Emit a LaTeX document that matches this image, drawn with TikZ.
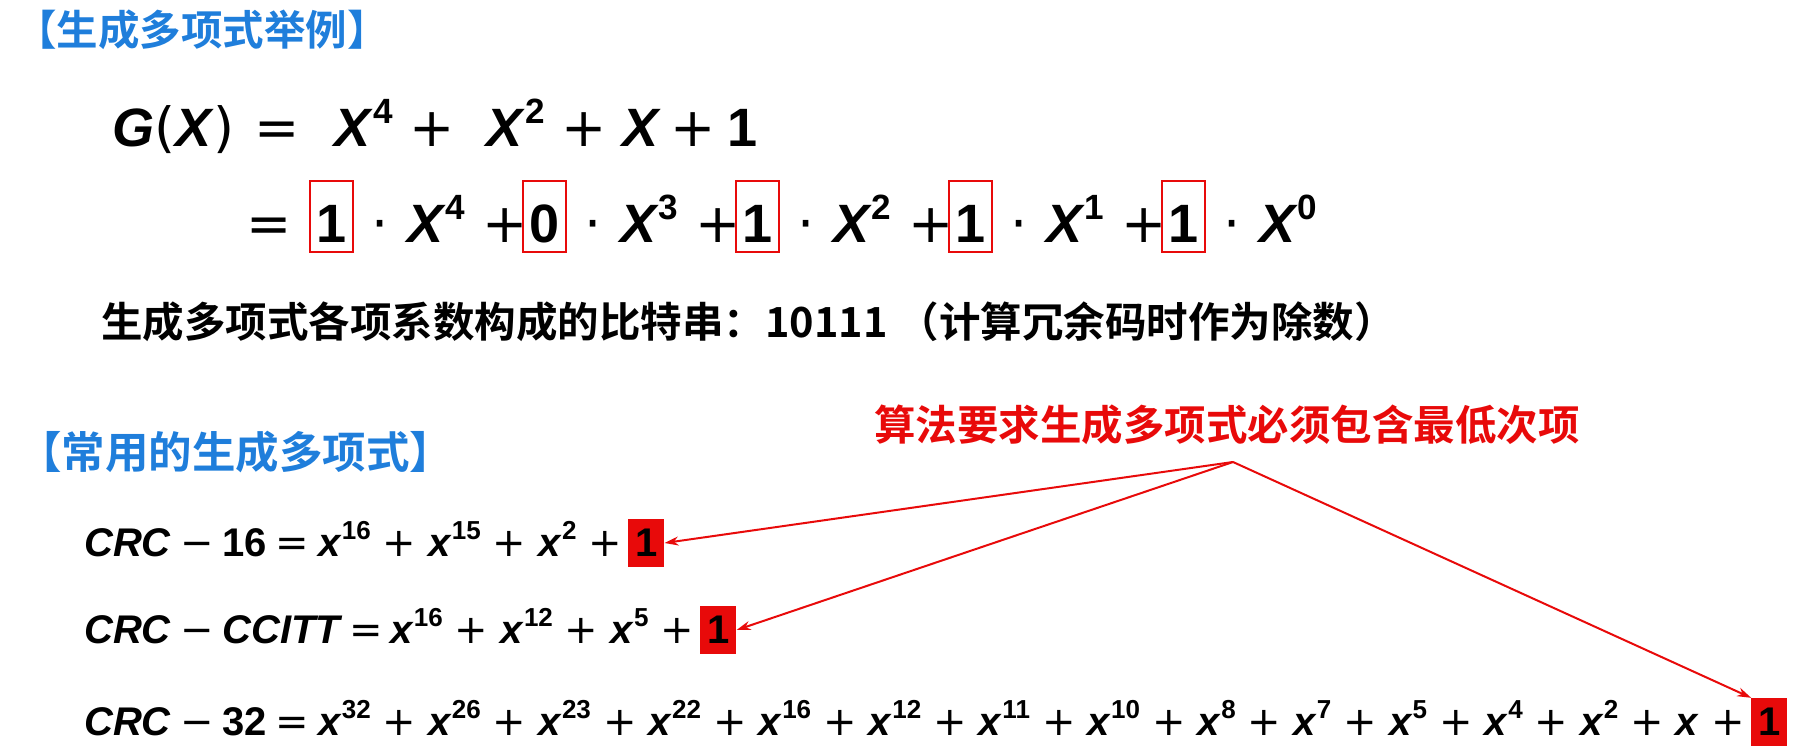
\documentclass[tikz,border=0pt]{standalone}
\usepackage{fontspec}
\usetikzlibrary{positioning,arrows.meta}
\newfontfamily\cjk{Noto Sans CJK SC Bold}
\newfontfamily\cjkh{Noto Sans CJK SC Bold}[RawFeature=+halt]
\newfontfamily\mf{Liberation Sans}
\newfontfamily\opf{DejaVu Sans}
\definecolor{headblue}{RGB}{31,126,219}
\definecolor{hired}{RGB}{232,10,10}
% exponent, variables and math-style operators
\newcommand{\pw}[1]{\raisebox{0.42em}{\scalebox{0.65}{#1}}}
\newcommand{\vx}{\textit{x}}
\newcommand{\vX}{\textit{X}}
\newcommand{\pl}{\makebox[0.78em]{\opf\mdseries +}}
\newcommand{\equ}{\makebox[0.78em]{\opf\mdseries =}}
\newcommand{\mn}{\makebox[0.78em]{\opf\mdseries −}}
\newcommand{\op}[1]{\hspace{13.2pt}#1\hspace{13.2pt}}
\newcommand{\term}[1]{\makebox[54pt]{\opf\mdseries ·}\makebox[80pt][l]{\vX\pw{#1}}}

\begin{document}
\begin{tikzpicture}[x=1pt, y=-1pt,
  head/.style = {anchor=west, inner sep=0, text=headblue, font=\cjkh\fontsize{41.5}{48}\selectfont},
  say/.style = {anchor=west, inner sep=0, font=\cjk\fontsize{41.5}{48}\selectfont},
  big/.style = {inner sep=0, outer sep=0, font=\mf\bfseries\fontsize{54}{60}\selectfont},
  coef/.style = {big, draw=hired, line width=2.5pt, minimum width=43pt, text height=61pt, text depth=10pt},
  crc/.style = {inner sep=0, font=\mf\bfseries\fontsize{40}{46}\selectfont},
  one/.style = {crc, fill=hired, minimum width=36pt, text height=37pt, text depth=11pt},
  pointer/.style = {draw=hired, line width=2pt, -{Stealth[length=14pt,width=9pt]}}]
\useasboundingbox (0,0) rectangle (1806,747);

\node[head] (h1) at (36,30) {【生成多项式举例】};
\node[big, anchor=base west] (g) at (112,146) {\textit{G}{\opf\mdseries(}\vX{\opf\mdseries)}\hspace{21pt}\equ\hspace{37pt}\vX\pw{4}\hspace{18pt}\pl\hspace{33pt}\vX\pw{2}\hspace{19pt}\pl\hspace{17pt}\vX\hspace{11pt}\pl\hspace{13pt}1};

\node[big, anchor=base west] (e0) at (249,242) {\makebox[40pt]{\opf\mdseries =}};
\node[coef] (k4) [base right=21pt of e0] {1};
\node[big]  (t4) [base right=0pt of k4] {\term{4}\makebox[36pt]{\pl}};
\node[coef] (k3) [base right=0pt of t4] {0};
\node[big]  (t3) [base right=0pt of k3] {\term{3}\makebox[36pt]{\pl}};
\node[coef] (k2) [base right=0pt of t3] {1};
\node[big]  (t2) [base right=0pt of k2] {\term{2}\makebox[36pt]{\pl}};
\node[coef] (k1) [base right=0pt of t2] {1};
\node[big]  (t1) [base right=0pt of k1] {\term{1}\makebox[36pt]{\pl}};
\node[coef] (k0) [base right=0pt of t1] {1};
\node[big]  (t0) [base right=0pt of k0] {\term{0}};

\node[say] (bits) at (101,322) {生成多项式各项系数构成的比特串：10111\hspace{10pt}（计算冗余码时作为除数）};

\node[head, font=\cjkh\fontsize{43.5}{50}\selectfont] (h2) at (40,452) {【常用的生成多项式】};
\node[say, text=hired] (note) at (874,425) {算法要求生成多项式必须包含最低次项};
\coordinate (src) at (1233,462);

\node[crc, anchor=base west] (c16) at (84,556) {\textit{CRC}\hspace{10pt}\mn\hspace{10pt}16\hspace{10pt}\equ\hspace{10pt}\vx\pw{16}\op{\pl}\vx\pw{15}\op{\pl}\vx\pw{2}\hspace{13.2pt}\pl};
\node[one] (o16) [base right=7pt of c16] {1};
\node[crc, anchor=base west] (cc) at (84,643) {\textit{CRC}\hspace{10pt}\mn\hspace{10pt}\textit{CCITT}\hspace{8pt}\equ\hspace{8pt}\vx\pw{16}\op{\pl}\vx\pw{12}\op{\pl}\vx\pw{5}\hspace{13.2pt}\pl};
\node[one] (oc) [base right=7pt of cc] {1};
\node[crc, anchor=base west] (c32) at (84,735) {\textit{CRC}\hspace{10pt}\mn\hspace{10pt}32\hspace{10pt}\equ\hspace{10pt}\vx\pw{32}\op{\pl}\vx\pw{26}\op{\pl}\vx\pw{23}\op{\pl}\vx\pw{22}\op{\pl}\vx\pw{16}\op{\pl}\vx\pw{12}\op{\pl}\vx\pw{11}\op{\pl}\vx\pw{10}\op{\pl}\vx\pw{8}\op{\pl}\vx\pw{7}\op{\pl}\vx\pw{5}\op{\pl}\vx\pw{4}\op{\pl}\vx\pw{2}\op{\pl}\vx\hspace{13.2pt}\pl};
\node[one] (o32) [base right=7pt of c32] {1};

\draw[pointer] (src) -- (o16.east);
\draw[pointer] (src) -- (oc.east);
\draw[pointer] (src) -- (o32.north west);
\end{tikzpicture}
\end{document}
